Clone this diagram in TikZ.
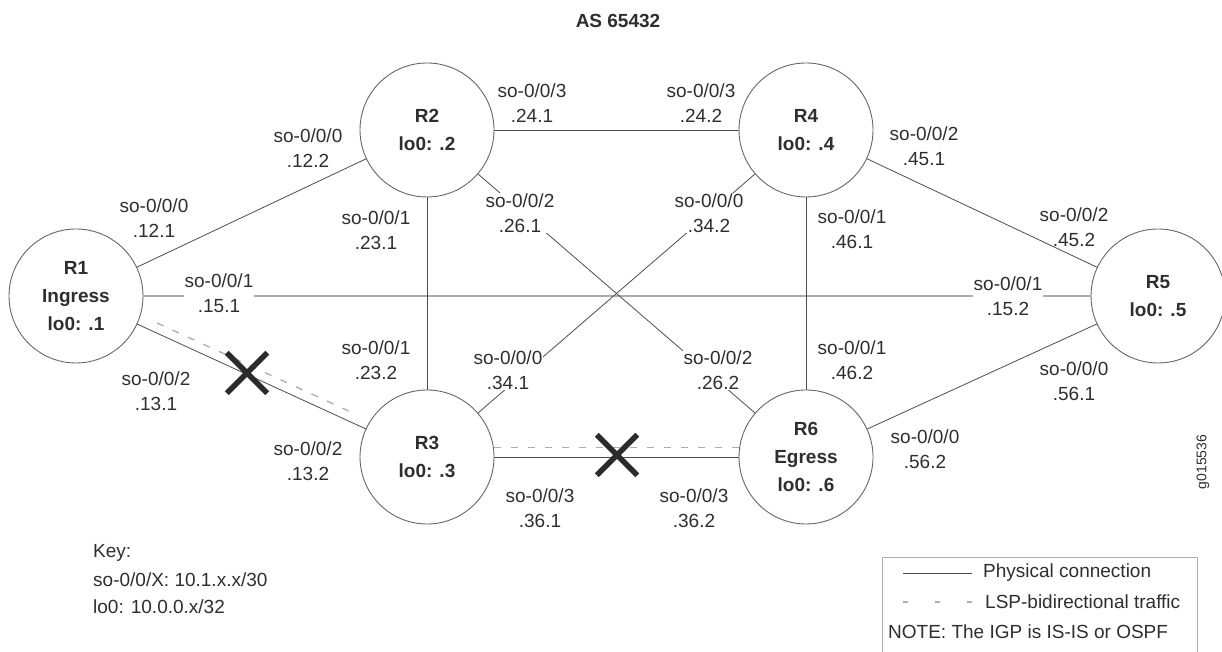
\documentclass[tikz,border=0pt]{standalone}
\usepackage{fontspec}
\setmainfont{Liberation Sans}
\usetikzlibrary{shapes.misc}
\definecolor{ink}{HTML}{2E2E2E}
\definecolor{wire}{HTML}{4D4D4D}
\definecolor{rim}{HTML}{666666}
\definecolor{pale}{HTML}{ADADAD}
\definecolor{crossC}{HTML}{2B2B2B}
\tikzset{
  router/.style={circle, draw=rim, line width=0.9pt, minimum size=134pt, inner sep=0pt, align=center, font=\bfseries\fontsize{19}{28}\selectfont, text=ink},
  iface/.style={align=center, inner sep=1pt, font=\fontsize{19}{25}\selectfont, text=ink},
  ifaceon/.style={iface, fill=white},
  link/.style={draw=wire, line width=0.8pt},
  igp/.style={draw=pale, line width=2pt},
  lsp/.style={draw=pale, line width=1.3pt, dash pattern=on 7pt off 10pt},
  xmark/.style={cross out, draw=crossC, line width=5.5pt, minimum size=35pt, inner sep=0pt},
  keytext/.style={anchor=west, inner sep=0pt, font=\fontsize{19}{23}\selectfont, text=ink}
}

\begin{document}
\begin{tikzpicture}[x=1pt,y=1pt]
\useasboundingbox (0,0) rectangle (1222,652);

\node[font=\bfseries\fontsize{19}{23}\selectfont, text=ink] (as) at (618,631) {AS 65432};

\node[router] (r1) at (76,356) {R1\\Ingress\\lo0: .1};
\node[router] (r2) at (427,522) {R2\\lo0: .2};
\node[router] (r3) at (427,195) {R3\\lo0: .3};
\node[router] (r4) at (806,522) {R4\\lo0: .4};
\node[router] (r5) at (1158,356) {R5\\lo0: .5};
\node[router] (r6) at (806,195) {R6\\Egress\\lo0: .6};

\draw[igp] (r1) -- (r5);
\draw[link] (r1) -- (r2);
\draw[link] (r1) -- (r3);
\draw[link] (r2) -- (r3);
\draw[link] (r2) -- (r4);
\draw[link] (r2) -- (r6);
\draw[link] (r3) -- (r4);
\draw[link] (r3) -- (r6);
\draw[link] (r4) -- (r6);
\draw[link] (r4) -- (r5);
\draw[link] (r5) -- (r6);

\coordinate (lsp13a) at (157,329);
\coordinate (lsp13b) at (353,239);
\draw[lsp] (lsp13a) -- (lsp13b);
\draw[lsp] (r3.8) -- (r6.172);

\node[xmark] (cut13) at (247,279) {};
\node[xmark] (cut36) at (617,197) {};

\node[iface] (l121) at (154,434) {so-0/0/0\\.12.1};
\node[iface] (l122) at (308,504) {so-0/0/0\\.12.2};
\node[iface] (l241) at (532,549) {so-0/0/3\\.24.1};
\node[iface] (l242) at (701,549) {so-0/0/3\\.24.2};
\node[iface] (l451) at (924,506) {so-0/0/2\\.45.1};
\node[iface] (l231) at (376,422) {so-0/0/1\\.23.1};
\node[ifaceon] (l261) at (520,439) {so-0/0/2\\.26.1};
\node[ifaceon] (l342) at (709,439) {so-0/0/0\\.34.2};
\node[iface] (l461) at (852,423) {so-0/0/1\\.46.1};
\node[iface] (l452) at (1074,425) {so-0/0/2\\.45.2};
\node[ifaceon] (l151) at (219,359) {so-0/0/1\\.15.1};
\node[ifaceon] (l152) at (1008,356) {so-0/0/1\\.15.2};
\node[iface] (l232) at (376,292) {so-0/0/1\\.23.2};
\node[ifaceon] (l341) at (508,282) {so-0/0/0\\.34.1};
\node[ifaceon] (l262) at (718,282) {so-0/0/2\\.26.2};
\node[iface] (l462) at (852,292) {so-0/0/1\\.46.2};
\node[iface] (l561) at (1074,271) {so-0/0/0\\.56.1};
\node[iface] (l131) at (156,261) {so-0/0/2\\.13.1};
\node[iface] (l132) at (308,191) {so-0/0/2\\.13.2};
\node[iface] (l361) at (540,144) {so-0/0/3\\.36.1};
\node[iface] (l362) at (694,144) {so-0/0/3\\.36.2};
\node[iface] (l562) at (925,203) {so-0/0/0\\.56.2};

\node[keytext] (key) at (93,99) {Key:};
\node[keytext] (keyso) at (93,72) {so-0/0/X: 10.1.x.x/30};
\node[keytext] (keylo) at (93,45) {lo0: 10.0.0.x/32};

\draw[draw=pale, line width=1pt] (882,-2) |- (1197,94) -- (1197,-2);
\coordinate (physA) at (903,79);
\coordinate (physB) at (972,79);
\draw[link] (physA) -- (physB);
\node[keytext] (phys) at (983,79) {Physical connection};
\coordinate (lspA) at (903,50);
\coordinate (lspB) at (972,50);
\draw[lsp, dash pattern=on 5pt off 27pt] (lspA) -- (lspB);
\node[keytext] (lsptxt) at (985,50) {LSP-bidirectional traffic};
\node[keytext] (note) at (888,20) {NOTE: The IGP is IS-IS or OSPF};

\node[rotate=90, font=\fontsize{14}{16}\selectfont, text=ink] (fig) at (1203,190) {g015536};

\end{tikzpicture}
\end{document}
